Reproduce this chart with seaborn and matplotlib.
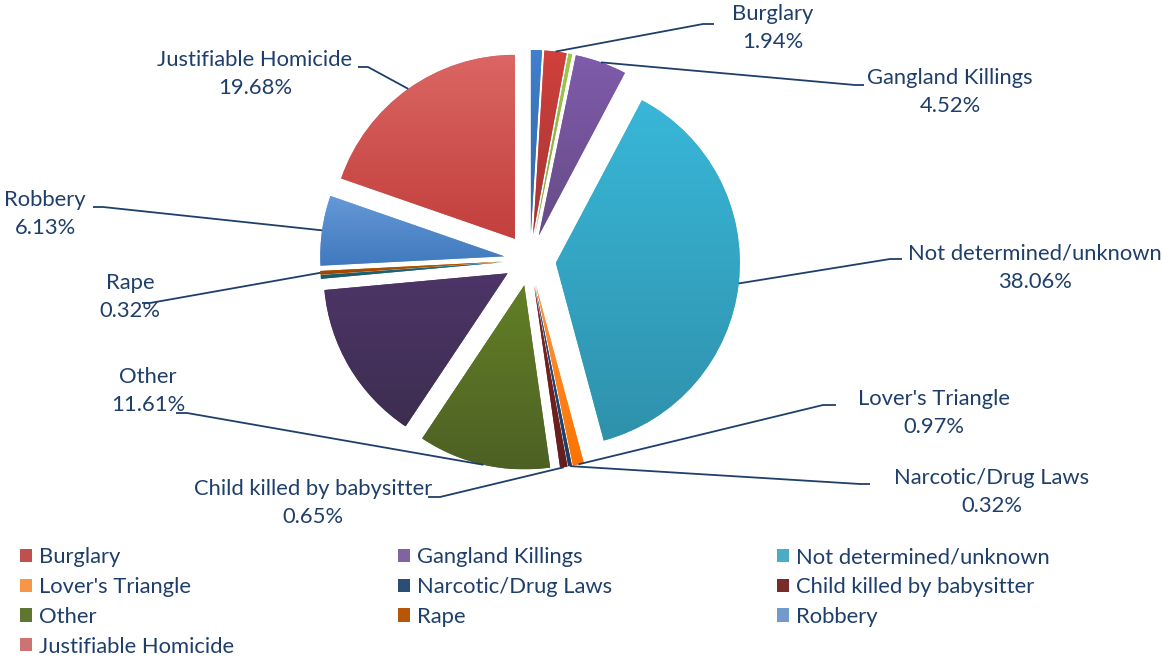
import colorsys
import numpy as np
import matplotlib
matplotlib.use("Agg")
import matplotlib.pyplot as plt
import seaborn as sns
from matplotlib.colors import to_rgb
from matplotlib.patches import Patch

# slices in drawing order, clockwise from 12 o'clock ("" = unnamed slice)
categories = ["", "Burglary", "", "Gangland Killings", "Not determined/unknown",
              "Lover's Triangle", "Narcotic/Drug Laws", "Child killed by babysitter",
              "Other", "", "", "Rape", "Robbery", "Justifiable Homicide"]
shares = [0.97, 1.94, 0.32, 4.52, 38.06, 0.97, 0.32, 0.65,
          11.61, 14.19, 0.32, 0.32, 6.13, 19.68]
colors = ["#4F81BD", "#C0504D", "#9BBB59", "#8064A2", "#4BACC6", "#F79646",
          "#2C4D75", "#772C2A", "#5F7530", "#4D3B62", "#276A7C", "#B65708",
          "#729ACA", "#CD7371"]
legend_order = ["Burglary", "Gangland Killings", "Not determined/unknown",
                "Lover's Triangle", "Narcotic/Drug Laws", "Child killed by babysitter",
                "Other", "Rape", "Robbery", "Justifiable Homicide"]

# label placement in pixels: text centre, elbow of leader, end of short tick
label_pos = {
    "Burglary": ((773, 28), (703, 24), (714, 24)),
    "Gangland Killings": ((950, 92), (855, 85), (864, 85)),
    "Not determined/unknown": ((1035, 268), (890, 259), (902, 259)),
    "Lover's Triangle": ((934, 413), (823, 405), (836, 405)),
    "Narcotic/Drug Laws": ((992, 492), (860, 484), (870, 484)),
    "Child killed by babysitter": ((313, 503), (440, 497), (428, 497)),
    "Other": ((148, 391), (187, 413), (176, 413)),
    "Rape": ((130, 297), (150, 303), (142, 303)),
    "Robbery": ((45, 214), (103, 207), (93, 207)),
    "Justifiable Homicide": ((255, 74), (368, 67), (358, 67)),
}

TXT = "#1F3F6B"
W, H = 1162, 660

sns.set_theme(style="white")
plt.rcParams["font.family"] = ["Lato", "DejaVu Sans"]
FS = 15.8


def shade(c, s=1.0, l=1.0):
    h, l0, s0 = colorsys.rgb_to_hls(*to_rgb(c))
    return colorsys.hls_to_rgb(h, min(1, l0 * l), min(1, s0 * s))


fig = plt.figure(figsize=(W / 100, H / 100), dpi=100)
ax = fig.add_axes([0, 0, 1, 1])

center = (530, 260)
radius = 184
wedges, _ = ax.pie(shares, colors=colors, startangle=-90, counterclock=True,
                   center=center, radius=radius, explode=[26] * len(shares),
                   wedgeprops=dict(linewidth=0))

# vertical gradient on each slice
for w, c in zip(wedges, colors):
    ext = w.get_path().get_extents()
    top, bot = np.array(shade(c, 1.3, 1.0)), np.array(shade(c, 1.1, 0.8))
    t = np.linspace(0, 1, 256)[:, None, None]
    img = top * (1 - t) + bot * t
    img = np.repeat(img, 2, axis=1)
    im = ax.imshow(img, extent=(ext.x0, ext.x1, ext.y1, ext.y0), origin="upper",
                   interpolation="bilinear", zorder=w.get_zorder() + 0.1)
    im.set_clip_path(w)

# labels with leader lines
for w, name, val in zip(wedges, categories, shares):
    if not name:
        continue
    (tx, ty), (ex, ey), (kx, ky) = label_pos[name]
    mid = np.deg2rad(0.5 * (w.theta1 + w.theta2))
    px = w.center[0] + w.r * np.cos(mid)
    py = w.center[1] + w.r * np.sin(mid)
    ax.plot([px, ex, kx], [py, ey, ky], color=TXT, lw=1.3, zorder=5,
            solid_capstyle="butt")
    ax.text(tx, ty, f"{name}\n{val:.2f}%", ha="center", va="center",
            fontsize=FS, color=TXT, linespacing=1.5, zorder=6)

ax.set_xlim(0, W)
ax.set_ylim(H, 0)
ax.set_aspect("equal", adjustable="box")
ax.axis("off")

# legend: three columns filled row by row
cmap = {n: c for n, c in zip(categories, colors) if n}
col_x = [20, 398, 777]
for j, x in enumerate(col_x):
    names = legend_order[j::3]
    handles = [Patch(facecolor=cmap[n], edgecolor="none") for n in names]
    fig.legend(handles, names, loc="upper left",
               bbox_to_anchor=(x / W, 1 - 547 / H), frameon=False,
               fontsize=FS, labelcolor=TXT, handlelength=0.55,
               handleheight=0.55, handletextpad=0.3, labelspacing=0.45,
               borderpad=0, borderaxespad=0)

fig.savefig("out.png", dpi=100)
